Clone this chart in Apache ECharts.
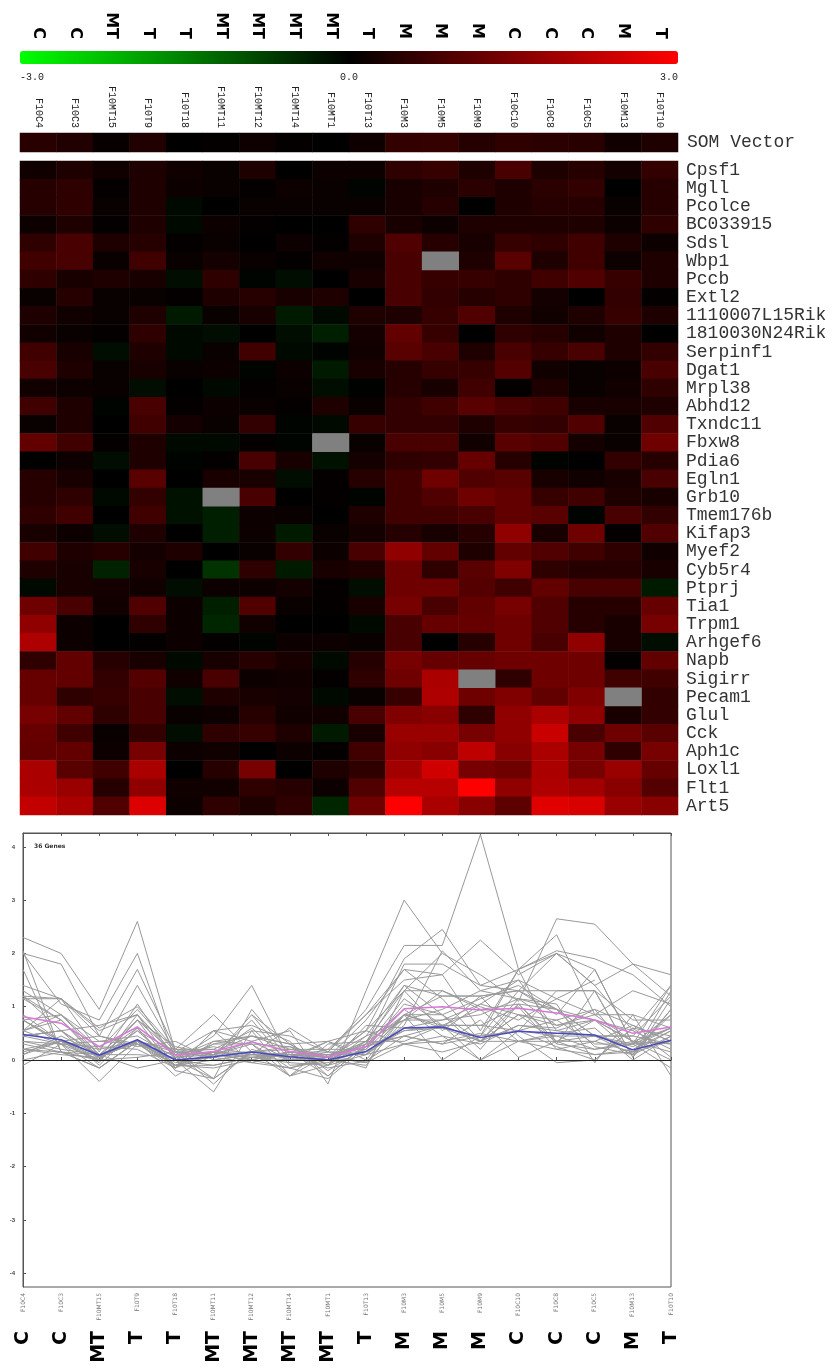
<!DOCTYPE html>
<html><head><meta charset="utf-8">
<script src="https://cdn.jsdelivr.net/npm/echarts@6/dist/echarts.min.js"></script>
<style>html,body{margin:0;padding:0;background:#fff}#c{width:833px;height:1368px}</style>
</head><body><div id="c"></div>
<script>
const samples = ['F10C4','F10C3','F10MT15','F10T9','F10T18','F10MT11','F10MT12','F10MT14','F10MT1','F10T13','F10M3','F10M5','F10M9','F10C10','F10C8','F10C5','F10M13','F10T10'];
const groups = ['C','C','MT','T','T','MT','MT','MT','MT','T','M','M','M','C','C','C','M','T'];
const genes = ['Cpsf1','Mgll','Pcolce','BC033915','Sdsl','Wbp1','Pccb','Extl2','1110007L15Rik','1810030N24Rik','Serpinf1','Dgat1','Mrpl38','Abhd12','Txndc11','Fbxw8','Pdia6','Egln1','Grb10','Tmem176b','Kifap3','Myef2','Cyb5r4','Ptprj','Tia1','Trpm1','Arhgef6','Napb','Sigirr','Pecam1','Glul','Cck','Aph1c','Loxl1','Flt1','Art5'];
const expression = [
[0.2,0.35,0.2,0.35,0.2,0.1,0.35,0.0,0.15,0.15,0.55,0.65,0.35,0.85,0.35,0.45,0.25,0.6],
[0.45,0.55,0.05,0.35,0.15,0.1,0.05,0.15,0.1,-0.05,0.3,0.35,0.5,0.35,0.5,0.6,0.0,0.45],
[0.45,0.55,0.1,0.35,-0.1,0.0,0.1,0.1,0.1,0.1,0.3,0.45,0.0,0.35,0.45,0.45,0.1,0.45],
[0.15,0.35,0.05,0.35,-0.1,0.15,0.05,0.0,0.0,0.55,0.3,0.15,0.35,0.35,0.35,0.35,0.15,0.55],
[0.55,0.85,0.35,0.45,0.05,0.1,0.0,0.15,0.05,0.35,0.95,0.45,0.3,0.65,0.55,0.75,0.35,0.15],
[0.75,0.85,0.1,0.75,0.1,0.25,0.1,0.05,0.2,0.2,0.85,null,0.35,1.05,0.35,0.75,0.15,0.35],
[0.55,0.3,0.35,0.3,-0.15,0.55,-0.05,-0.15,0.0,0.3,0.85,0.65,0.65,0.55,0.75,0.95,0.65,0.35],
[0.1,0.45,0.1,0.1,0.05,0.35,0.45,0.3,0.35,0.0,0.85,0.6,0.45,0.55,0.25,0.0,0.6,0.05],
[0.35,0.2,0.1,0.35,-0.3,0.1,0.3,-0.3,-0.1,0.35,0.35,0.65,0.95,0.35,0.2,0.35,0.65,0.35],
[0.2,0.1,0.05,0.55,-0.1,-0.15,0.0,-0.15,-0.35,0.25,1.15,0.65,0.0,0.55,0.45,0.2,0.35,0.0],
[0.75,0.3,-0.15,0.35,-0.1,0.1,0.75,-0.1,-0.05,0.2,1.05,0.85,0.35,0.85,0.65,0.85,0.35,0.6],
[0.85,0.35,0.1,0.3,0.1,0.15,-0.05,0.15,-0.3,0.3,0.45,0.65,0.65,1.0,0.2,0.1,0.15,0.85],
[0.2,0.15,0.1,-0.15,0.0,-0.1,0.05,0.1,-0.15,-0.02,0.45,0.3,0.75,0.05,0.35,0.1,0.2,0.55],
[0.75,0.35,-0.05,0.85,0.05,0.15,0.1,0.05,0.35,0.1,0.6,0.75,1.05,0.85,0.75,0.3,0.3,0.35],
[0.1,0.35,0.0,0.75,0.25,0.1,0.6,-0.05,-0.1,0.65,0.6,0.6,0.35,0.65,0.6,0.95,0.1,0.95],
[1.15,0.75,0.05,0.35,-0.1,-0.1,0.05,-0.05,null,0.1,0.85,0.85,0.2,1.05,0.95,0.25,0.1,1.3],
[0.0,0.15,-0.15,0.35,-0.05,0.05,0.85,0.3,-0.2,0.25,0.55,0.6,1.2,0.45,-0.05,0.0,0.6,0.45],
[0.45,0.3,0.0,1.05,0.0,0.3,0.3,-0.15,0.05,0.45,0.75,1.3,0.95,1.05,0.3,0.2,0.3,0.85],
[0.45,0.55,-0.1,0.6,-0.2,null,0.85,0.0,0.05,-0.05,0.75,0.95,1.3,1.15,0.65,0.75,0.35,0.3],
[0.55,0.75,0.0,0.75,-0.2,-0.35,0.15,0.1,0.0,0.35,0.75,0.75,0.85,1.15,1.05,-0.05,0.85,0.6],
[0.3,0.15,-0.15,0.35,0.0,-0.35,0.15,-0.3,0.1,0.25,0.45,0.3,0.45,1.7,0.3,1.3,0.05,0.95],
[0.75,0.35,0.45,0.25,0.35,0.0,0.1,0.6,0.15,0.85,1.7,1.15,0.35,1.15,0.95,0.75,0.55,0.2],
[0.35,0.3,-0.4,0.3,0.0,-0.6,0.55,-0.3,0.3,0.35,1.3,0.55,1.05,1.5,0.55,0.45,0.45,0.3],
[-0.1,0.3,0.25,0.2,-0.15,0.15,0.15,0.25,0.05,-0.15,1.3,1.3,1.0,0.75,1.15,0.85,0.85,-0.3],
[1.3,0.85,0.2,0.95,0.15,-0.35,0.95,0.1,0.05,0.3,1.4,0.85,1.15,1.4,0.95,0.45,0.45,1.2],
[1.7,0.15,0.0,0.55,0.15,-0.45,0.2,0.0,0.0,-0.1,0.85,1.2,1.2,1.3,0.95,0.45,0.3,1.4],
[2.05,0.15,0.0,0.05,0.15,0.05,-0.05,0.15,0.15,0.1,0.85,0.0,0.45,1.3,0.85,1.7,0.3,-0.15],
[0.55,1.15,0.45,0.3,-0.1,0.3,0.45,0.3,-0.1,0.45,1.4,1.2,1.2,1.3,1.3,1.3,0.05,1.15],
[1.2,1.15,0.6,1.0,0.2,0.85,0.15,0.2,0.05,0.55,1.3,2.0,null,0.55,1.3,1.3,0.75,0.75],
[1.2,0.55,0.65,0.85,-0.15,0.35,0.3,0.25,-0.1,0.1,0.65,2.05,1.3,1.5,1.15,1.5,null,0.6],
[1.4,1.15,0.55,0.85,0.1,0.15,0.45,0.2,0.2,0.85,1.5,1.6,0.55,1.7,2.0,1.7,0.3,0.6],
[1.2,0.75,0.1,0.6,-0.15,0.55,0.65,0.35,-0.3,0.3,1.8,1.8,1.4,1.7,2.35,0.85,1.3,1.05],
[1.15,1.15,0.15,1.4,0.15,0.2,0.0,0.15,0.05,0.75,1.7,1.6,2.25,1.6,2.0,1.4,0.55,1.4],
[2.0,1.05,0.75,2.0,0.0,0.45,1.4,0.0,0.35,0.55,1.9,2.45,1.4,1.3,2.0,1.4,1.8,1.2],
[2.0,1.8,0.45,1.7,0.2,0.2,0.55,0.45,0.15,0.95,2.15,2.15,4.23,1.7,2.05,1.9,1.6,1.0],
[2.3,2.0,0.95,2.6,0.15,0.55,0.35,0.55,-0.45,1.3,3.0,2.0,1.6,1.1,2.65,2.55,1.8,1.6]
];
const somVector = [0.48,0.38,0.09,0.38,0.0,0.06,0.15,0.06,0.0,0.16,0.6,0.62,0.42,0.54,0.5,0.47,0.19,0.37];
const meanProfile = [0.81,0.69,0.25,0.62,0.09,0.16,0.34,0.16,0.06,0.25,0.96,1.0,0.94,0.97,0.88,0.75,0.5,0.62];
const colorScaleTicks = [-3, 0, 3];
const profileTicks = [-4,-3,-2,-1,0,1,2,3,4];
const profileRange = [-4.26, 4.26];

const heatCells = [], missingCells = [];
expression.forEach((row, r) => row.forEach((v, c) => {
  if (v === null) missingCells.push([c, r, 0]); else heatCells.push([c, r, v]);
}));

const mono = 'Liberation Mono';
const L = 20, R = 155;
const noLine = {show:false}, noTick = {show:false};

const lineSeries = genes.map((g, i) => ({
  type:'line', name:g, xAxisIndex:4, yAxisIndex:3, data: expression[i],
  showSymbol:false, silent:true, lineStyle:{color:'#999999', width:1}, z:2
}));
lineSeries[0].markLine = {silent:true, symbol:'none', label:{show:false},
  lineStyle:{color:'#222', width:1, type:'solid'}, data:[{yAxis:0}]};

const chart = echarts.init(document.getElementById('c'), null, {renderer:'canvas'});
chart.setOption({
  animation:false,
  backgroundColor:'#fff',
  title:{text:'36 Genes', left:29, top:838, textStyle:{fontSize:6, fontWeight:'bold', color:'#333', fontFamily:'DejaVu Sans'}},
  visualMap:{type:'continuous', min:-3, max:3, orient:'horizontal', left:L, top:51,
    itemWidth:13, itemHeight:658, padding:0, calculable:false, hoverLink:false, text:null,
    inRange:{color:['#00ff00','#000000','#ff0000']}, seriesIndex:[0,1]},
  grid:[
    {left:L, right:R, top:51, height:13},
    {left:L, right:R, top:133, height:19},
    {left:L, right:R, top:161, height:654},
    {left:23, right:162, top:833, height:454, show:true, borderColor:'#555', borderWidth:1},
    {left:23, right:162, top:1327, height:1}
  ],
  xAxis:[
    {type:'value', gridIndex:0, min:-3, max:3, interval:3, position:'bottom',
      axisLine:noLine, axisTick:noTick, splitLine:{show:false},
      axisLabel:{margin:8, fontFamily:mono, fontSize:10, color:'#222', formatter:v=>v.toFixed(1),
        customValues:colorScaleTicks, alignMinLabel:'left', alignMaxLabel:'right'}},
    {type:'category', gridIndex:0, data:groups, position:'top',
      axisLine:noLine, axisTick:noTick,
      axisLabel:{rotate:90, interval:0, margin:12, fontFamily:'DejaVu Sans', fontWeight:'bold', fontSize:16, color:'#000'}},
    {type:'category', gridIndex:1, data:samples, position:'top',
      axisLine:noLine, axisTick:noTick,
      axisLabel:{rotate:90, interval:0, margin:5, fontFamily:mono, fontSize:10, color:'#222'}},
    {type:'category', gridIndex:2, data:samples, show:false},
    {type:'category', gridIndex:3, data:samples, position:'bottom', boundaryGap:false,
      axisLine:{lineStyle:{color:'#555'}}, axisTick:{inside:true, length:3, interval:0, lineStyle:{color:'#555'}},
      axisLabel:{rotate:90, interval:0, margin:6, fontFamily:'DejaVu Sans', fontSize:6, color:'#777'}},
    {type:'category', gridIndex:3, data:samples, position:'top', boundaryGap:false,
      axisLine:{lineStyle:{color:'#555'}}, axisTick:{inside:true, length:3, interval:0, lineStyle:{color:'#555'}},
      axisLabel:{show:false}},
    {type:'category', gridIndex:4, data:groups, position:'bottom', boundaryGap:false,
      axisLine:noLine, axisTick:noTick,
      axisLabel:{rotate:90, interval:0, margin:3, fontFamily:'DejaVu Sans', fontWeight:'bold', fontSize:19, color:'#000'}}
  ],
  yAxis:[
    {type:'value', gridIndex:0, show:false},
    {type:'category', gridIndex:1, data:['SOM Vector'], position:'right',
      axisLine:noLine, axisTick:noTick,
      axisLabel:{margin:9, fontFamily:mono, fontSize:18, color:'#333'}},
    {type:'category', gridIndex:2, data:genes, inverse:true, position:'right',
      axisLine:noLine, axisTick:noTick,
      axisLabel:{margin:8, interval:0, fontFamily:mono, fontSize:18, color:'#333'}},
    {type:'value', gridIndex:3, min:profileRange[0], max:profileRange[1], splitLine:{show:false},
      axisLine:{show:true, lineStyle:{color:'#555'}},
      axisTick:{show:true, inside:true, length:3, customValues:profileTicks, lineStyle:{color:'#555'}},
      axisLabel:{margin:8, fontSize:6, fontWeight:'bold', color:'#444', customValues:profileTicks}},
    {type:'value', gridIndex:4, show:false}
  ],
  series:[
    {type:'heatmap', xAxisIndex:2, yAxisIndex:1, data:somVector.map((v,i)=>[i,0,v]), silent:true, itemStyle:{borderWidth:0}},
    {type:'heatmap', xAxisIndex:3, yAxisIndex:2, data:heatCells, silent:true, itemStyle:{borderWidth:0}},
    {type:'heatmap', xAxisIndex:3, yAxisIndex:2, data:missingCells, silent:true, itemStyle:{color:'#808080', borderWidth:0}},
    ...lineSeries,
    {type:'line', name:'Mean', xAxisIndex:4, yAxisIndex:3, data:meanProfile, showSymbol:false, silent:true,
      lineStyle:{color:'#d878d8', width:1.5}, z:3},
    {type:'line', name:'SOM Vector', xAxisIndex:4, yAxisIndex:3, data:somVector, showSymbol:false, silent:true,
      lineStyle:{color:'#4848c0', width:1.5}, z:4}
  ]
});
</script></body></html>
